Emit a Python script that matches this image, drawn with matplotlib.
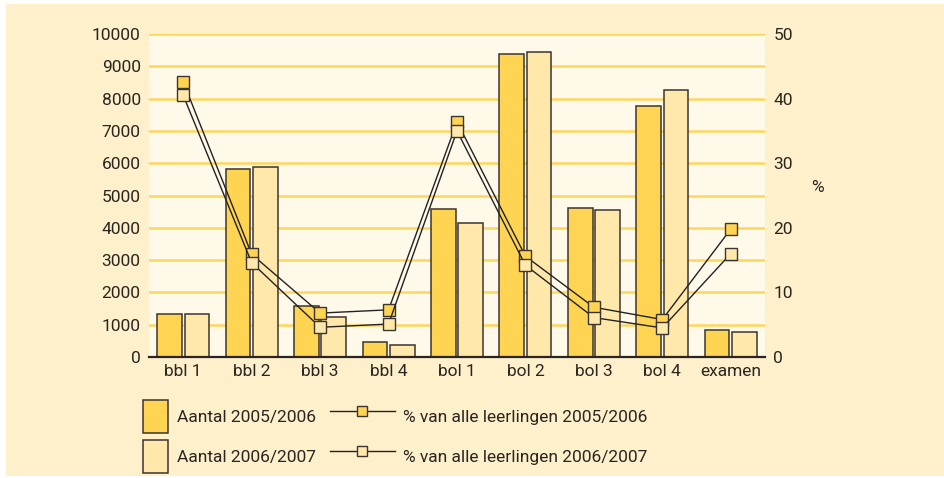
import numpy as np
import matplotlib.pyplot as plt
from matplotlib.patches import Patch, Rectangle
from matplotlib.lines import Line2D

# data
categories = ["bbl 1", "bbl 2", "bbl 3", "bbl 4", "bol 1", "bol 2", "bol 3", "bol 4", "examen"]
aantal_0506 = [1320, 5815, 1580, 475, 4585, 9390, 4600, 7770, 846]
aantal_0607 = [1320, 5877, 1250, 360, 4163, 9450, 4555, 8280, 785]
pct_0506 = [42.6, 15.9, 6.8, 7.3, 36.4, 15.6, 7.7, 5.8, 19.8]
pct_0607 = [40.5, 14.6, 4.6, 5.1, 35.0, 14.2, 6.1, 4.5, 16.0]
left_ticks = list(range(0, 10001, 1000))
right_ticks = list(range(0, 51, 10))

# colours
c_dark = "#FFD452"
c_light = "#FFE8AA"
c_edge = "#3a3530"
c_grid = "#FFD65C"
c_fig = "#FFF0CC"
c_ax = "#FFF9EA"
c_text = "#2a2520"

plt.rcParams['font.family'] = ['Roboto', 'DejaVu Sans']
fs = 12.5

fig = plt.figure(figsize=(9.45, 4.78), dpi=100)
fig.patch.set_facecolor("white")
fig.patches.append(Rectangle((6 / 945, 2 / 478), 1 - 6 / 945, 1 - 6 / 478,
                             transform=fig.transFigure, facecolor=c_fig,
                             edgecolor="none", zorder=-10))

ax = fig.add_axes([149 / 945, 1 - 357 / 478, 616 / 945, 323 / 478])
ax.set_facecolor(c_ax)
x = np.arange(len(categories))
w = 0.36
ax.bar(x - 0.2, aantal_0506, w, color=c_dark, edgecolor=c_edge, linewidth=1.1, zorder=3)
ax.bar(x + 0.2, aantal_0607, w, color=c_light, edgecolor=c_edge, linewidth=1.1, zorder=3)
ax.set_xlim(-0.5, len(categories) - 0.5)
ax.set_ylim(0, 10000)
ax.set_yticks(left_ticks)
ax.yaxis.grid(True, color=c_grid, linewidth=1.8, zorder=0)
ax.set_axisbelow(True)
ax.set_xticks(x)
ax.set_xticklabels(categories)
ax.tick_params(axis="both", length=0, labelsize=fs, colors=c_text)
ax.tick_params(axis="x", pad=5)
ax.tick_params(axis="y", pad=6)
for s in ["top", "left", "right"]:
    ax.spines[s].set_visible(False)
ax.spines["bottom"].set_color(c_text)
ax.spines["bottom"].set_linewidth(1.6)
ax.spines["bottom"].set_zorder(5)

ax2 = ax.twinx()
ax2.plot(x, pct_0506, color="#222222", linewidth=1.0, marker="s", markersize=8.5,
         markerfacecolor=c_dark, markeredgecolor=c_edge, markeredgewidth=1.0, zorder=4)
ax2.plot(x, pct_0607, color="#222222", linewidth=1.0, marker="s", markersize=8.5,
         markerfacecolor=c_light, markeredgecolor=c_edge, markeredgewidth=1.0, zorder=4)
ax2.set_ylim(0, 50)
ax2.set_yticks(right_ticks)
ax2.tick_params(axis="y", length=0, labelsize=fs, colors=c_text, pad=6)
for s in ["top", "left", "right", "bottom"]:
    ax2.spines[s].set_visible(False)
fig.text(817 / 945, 1 - 187 / 478, "%", fontsize=fs, color=c_text,
         ha="center", va="center")

# legends
h_bars = [Patch(facecolor=c_dark, edgecolor=c_edge, linewidth=1.1),
          Patch(facecolor=c_light, edgecolor=c_edge, linewidth=1.1)]
leg1 = fig.legend(h_bars, ["Aantal 2005/2006", "Aantal 2006/2007"],
                  loc="upper left", bbox_to_anchor=(143 / 945, 1 - 400 / 478),
                  frameon=False, fontsize=fs, handlelength=1.44, handleheight=2.55,
                  labelspacing=0.4, handletextpad=0.52, borderpad=0, borderaxespad=0)
h_lines = [Line2D([], [], color="#222222", linewidth=1.0, marker="s", markersize=6.5,
                  markerfacecolor=c_dark, markeredgecolor=c_edge),
           Line2D([], [], color="#222222", linewidth=1.0, marker="s", markersize=6.5,
                  markerfacecolor=c_light, markeredgecolor=c_edge)]
leg2 = fig.legend(h_lines, ["% van alle leerlingen 2005/2006", "% van alle leerlingen 2006/2007"],
                  loc="upper left", bbox_to_anchor=(330 / 945, 1 - 400 / 478),
                  frameon=False, fontsize=fs, handlelength=3.74, handleheight=2.55,
                  labelspacing=0.4, handletextpad=0.45, borderpad=0, borderaxespad=0)
for t in leg1.get_texts() + leg2.get_texts():
    t.set_color(c_text)

fig.savefig("out.png", dpi=100, facecolor=fig.get_facecolor())
